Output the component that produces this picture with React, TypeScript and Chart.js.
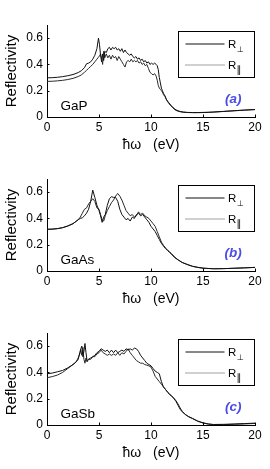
import React, { useEffect, useRef } from "react";
import { Chart, registerables } from "chart.js";

Chart.register(...registerables);

const FONT = "'Liberation Sans', Arial, Helvetica, sans-serif";

const materials = ["GaP", "GaAs", "GaSb"];
const panelTags = ["(a)", "(b)", "(c)"];
const seriesNames = ["R⊥", "R∥"];
const xTickValues = [0, 5, 10, 15, 20];
const yTickValues = [0, 0.2, 0.4, 0.6];
const xTitle = "ħω   (eV)";
const yTitle = "Reflectivity";

// ---- GaP ----
const energyGaP = [0, 0.5, 1, 1.5, 2, 2.5, 3, 3.3, 3.6, 3.8, 4, 4.2, 4.4, 4.6, 4.8, 4.95, 5.05, 5.15, 5.25, 5.35, 5.45, 5.55, 5.7, 5.85, 6, 6.15, 6.3, 6.45, 6.6, 6.75, 6.9, 7.05, 7.2, 7.35, 7.5, 7.65, 7.8, 7.95, 8.1, 8.25, 8.4, 8.55, 8.7, 8.85, 9, 9.15, 9.3, 9.45, 9.6, 9.75, 9.9, 10.05, 10.2, 10.35, 10.5, 10.6, 10.7, 10.8, 10.9, 11, 11.1, 11.2, 11.35, 11.5, 11.7, 11.9, 12.1, 12.3, 12.5, 12.8, 13.1, 13.5, 14, 14.5, 15, 15.5, 16, 17, 18, 19, 20];
const rPerpGaP = [0.298, 0.299, 0.302, 0.307, 0.314, 0.323, 0.338, 0.352, 0.375, 0.405, 0.41, 0.42, 0.44, 0.47, 0.52, 0.6, 0.55, 0.47, 0.42, 0.48, 0.43, 0.5, 0.49, 0.52, 0.53, 0.51, 0.53, 0.52, 0.53, 0.51, 0.52, 0.5, 0.52, 0.49, 0.51, 0.49, 0.48, 0.47, 0.48, 0.46, 0.45, 0.46, 0.44, 0.45, 0.43, 0.44, 0.42, 0.43, 0.41, 0.42, 0.4, 0.41, 0.4, 0.41, 0.4, 0.39, 0.36, 0.3, 0.26, 0.22, 0.2, 0.18, 0.16, 0.13, 0.11, 0.09, 0.075, 0.06, 0.05, 0.042, 0.038, 0.035, 0.034, 0.034, 0.035, 0.036, 0.038, 0.043, 0.048, 0.053, 0.057];
const rParGaP = [0.271, 0.272, 0.275, 0.279, 0.285, 0.294, 0.308, 0.32, 0.34, 0.355, 0.37, 0.385, 0.4, 0.42, 0.44, 0.455, 0.465, 0.48, 0.45, 0.4, 0.5, 0.45, 0.48, 0.45, 0.47, 0.44, 0.47, 0.45, 0.46, 0.43, 0.46, 0.44, 0.42, 0.4, 0.38, 0.42, 0.43, 0.42, 0.44, 0.42, 0.43, 0.42, 0.43, 0.41, 0.42, 0.4, 0.41, 0.39, 0.4, 0.37, 0.34, 0.33, 0.32, 0.33, 0.31, 0.28, 0.24, 0.22, 0.21, 0.2, 0.19, 0.17, 0.155, 0.13, 0.105, 0.085, 0.07, 0.055, 0.047, 0.04, 0.036, 0.034, 0.033, 0.033, 0.034, 0.035, 0.037, 0.042, 0.047, 0.052, 0.056];

// ---- GaAs ----
const energyGaAs = [0, 0.5, 1, 1.5, 2, 2.5, 3, 3.2, 3.4, 3.6, 3.8, 4, 4.2, 4.4, 4.6, 4.8, 5, 5.15, 5.3, 5.45, 5.6, 5.8, 6, 6.2, 6.4, 6.6, 6.8, 7, 7.2, 7.4, 7.6, 7.8, 8, 8.2, 8.4, 8.6, 8.8, 9, 9.2, 9.4, 9.6, 9.8, 10, 10.2, 10.4, 10.6, 10.8, 11, 11.2, 11.4, 11.6, 11.8, 12, 12.3, 12.6, 13, 13.5, 14, 14.5, 15, 16, 17, 18, 19, 20];
const rPerpGaAs = [0.318, 0.319, 0.323, 0.33, 0.343, 0.36, 0.39, 0.4, 0.405, 0.42, 0.44, 0.47, 0.53, 0.615, 0.56, 0.5, 0.46, 0.42, 0.37, 0.41, 0.43, 0.5, 0.55, 0.565, 0.56, 0.56, 0.53, 0.47, 0.43, 0.41, 0.39, 0.4, 0.38, 0.41, 0.4, 0.43, 0.44, 0.42, 0.43, 0.41, 0.39, 0.37, 0.34, 0.32, 0.3, 0.27, 0.24, 0.21, 0.19, 0.17, 0.155, 0.14, 0.125, 0.1, 0.085, 0.065, 0.05, 0.036, 0.028, 0.022, 0.017, 0.018, 0.021, 0.024, 0.027];
const rParGaAs = [0.316, 0.318, 0.322, 0.329, 0.342, 0.36, 0.39, 0.41, 0.44, 0.47, 0.48, 0.51, 0.53, 0.55, 0.53, 0.48, 0.47, 0.43, 0.39, 0.38, 0.42, 0.46, 0.49, 0.52, 0.54, 0.57, 0.59, 0.57, 0.54, 0.5, 0.46, 0.44, 0.42, 0.43, 0.41, 0.42, 0.45, 0.43, 0.44, 0.42, 0.41, 0.4, 0.38, 0.36, 0.34, 0.3, 0.26, 0.22, 0.195, 0.175, 0.16, 0.145, 0.13, 0.105, 0.085, 0.065, 0.048, 0.035, 0.027, 0.021, 0.017, 0.018, 0.021, 0.024, 0.028];

// ---- GaSb ----
const energyGaSb = [0, 0.5, 1, 1.5, 2, 2.5, 2.8, 3, 3.15, 3.25, 3.35, 3.45, 3.55, 3.65, 3.75, 3.85, 4, 4.2, 4.4, 4.6, 4.8, 5, 5.2, 5.4, 5.6, 5.8, 6, 6.2, 6.4, 6.6, 6.8, 7, 7.2, 7.4, 7.6, 7.8, 8, 8.2, 8.4, 8.6, 8.8, 9, 9.2, 9.4, 9.6, 9.8, 10, 10.2, 10.4, 10.6, 10.8, 11, 11.2, 11.4, 11.6, 11.8, 12, 12.2, 12.4, 12.6, 12.8, 13, 13.3, 13.6, 14, 14.5, 15, 15.5, 16, 17, 18, 19, 20];
const rPerpGaSb = [0.39, 0.395, 0.405, 0.415, 0.435, 0.46, 0.48, 0.5, 0.55, 0.58, 0.6, 0.52, 0.56, 0.62, 0.55, 0.49, 0.5, 0.51, 0.52, 0.53, 0.55, 0.56, 0.58, 0.57, 0.56, 0.57, 0.55, 0.57, 0.55, 0.57, 0.55, 0.56, 0.57, 0.56, 0.58, 0.57, 0.58, 0.57, 0.585, 0.58, 0.56, 0.53, 0.51, 0.49, 0.47, 0.46, 0.45, 0.43, 0.41, 0.4, 0.39, 0.33, 0.29, 0.27, 0.25, 0.23, 0.22, 0.2, 0.18, 0.15, 0.12, 0.1, 0.08, 0.065, 0.05, 0.03, 0.017, 0.008, 0.004, 0.005, 0.008, 0.011, 0.014];
const rParGaSb = [0.36, 0.368, 0.38, 0.4, 0.43, 0.46, 0.48, 0.51, 0.54, 0.57, 0.53, 0.59, 0.5, 0.47, 0.51, 0.48, 0.5, 0.5, 0.52, 0.52, 0.54, 0.55, 0.57, 0.55, 0.54, 0.53, 0.54, 0.53, 0.54, 0.53, 0.55, 0.53, 0.55, 0.54, 0.56, 0.58, 0.55, 0.53, 0.51, 0.49, 0.48, 0.47, 0.47, 0.46, 0.455, 0.45, 0.44, 0.41, 0.37, 0.35, 0.33, 0.31, 0.29, 0.27, 0.25, 0.235, 0.22, 0.205, 0.185, 0.16, 0.13, 0.105, 0.08, 0.063, 0.048, 0.028, 0.015, 0.007, 0.003, 0.003, 0.005, 0.008, 0.012];

const panelEnergies = [energyGaP, energyGaAs, energyGaSb];
const panelPerp = [rPerpGaP, rPerpGaAs, rPerpGaSb];
const panelPar = [rParGaP, rParGaAs, rParGaSb];

const PANEL_H = 154;
const W = 270;

function Panel({ idx }: { idx: number }) {
  const ref = useRef<HTMLCanvasElement>(null);
  useEffect(() => {
    const canvas = ref.current;
    if (!canvas) return;
    const energy = panelEnergies[idx];
    const toPts = (ys: number[]) => energy.map((x, i) => ({ x, y: ys[i] }));

    const overlay = {
      id: "overlay" + idx,
      afterDraw(chart: any) {
        const { ctx, chartArea: ca, scales } = chart;
        const xs = scales.x;
        const ys = scales.y;
        ctx.save();
        // inward tick marks
        ctx.strokeStyle = "#000";
        ctx.lineWidth = 1;
        ctx.beginPath();
        xTickValues.forEach((v) => {
          const px = Math.round(xs.getPixelForValue(v)) + 0.5;
          ctx.moveTo(px, ca.bottom);
          ctx.lineTo(px, ca.bottom - 2.5);
        });
        yTickValues.forEach((v) => {
          const py = Math.round(ys.getPixelForValue(v)) + 0.5;
          ctx.moveTo(ca.left, py);
          ctx.lineTo(ca.left + 2.5, py);
        });
        ctx.stroke();

        // material name
        ctx.fillStyle = "#000";
        ctx.font = `13.5px ${FONT}`;
        ctx.textAlign = "left";
        ctx.textBaseline = "alphabetic";
        ctx.fillText(materials[idx], xs.getPixelForValue(1.3), ys.getPixelForValue(0.05));

        // panel tag
        ctx.fillStyle = "#4b4be6";
        ctx.font = `italic bold 13.5px ${FONT}`;
        ctx.textAlign = "center";
        ctx.textBaseline = "middle";
        ctx.fillText(panelTags[idx], xs.getPixelForValue(17.9), ys.getPixelForValue(0.133));

        // legend box
        const bx = Math.round(ca.right - 77) + 0.5;
        const by = Math.round(ca.top + 6) + 0.5;
        const bw = 76;
        const bh = 46;
        ctx.fillStyle = "#fff";
        ctx.fillRect(bx, by, bw, bh);
        ctx.strokeStyle = "#000";
        ctx.lineWidth = 1;
        ctx.strokeRect(bx, by, bw, bh);

        // solid sample
        ctx.beginPath();
        ctx.strokeStyle = "#111";
        ctx.moveTo(bx + 7, by + 12.5);
        ctx.lineTo(bx + 46, by + 12.5);
        ctx.stroke();
        // dotted sample
        ctx.beginPath();
        ctx.strokeStyle = "#444";
        ctx.setLineDash([1, 1]);
        ctx.moveTo(bx + 7, by + 33.5);
        ctx.lineTo(bx + 46, by + 33.5);
        ctx.stroke();
        ctx.setLineDash([]);

        ctx.fillStyle = "#000";
        ctx.textAlign = "left";
        ctx.textBaseline = "alphabetic";
        ctx.font = `11.5px ${FONT}`;
        ctx.fillText(seriesNames[0].charAt(0), bx + 49.5, by + 16.5);
        ctx.fillText(seriesNames[1].charAt(0), bx + 49.5, by + 37);
        ctx.font = `8px 'DejaVu Sans', ${FONT}`;
        ctx.fillText(seriesNames[0].slice(1), bx + 58.5, by + 20);
        ctx.font = `10px 'DejaVu Sans', ${FONT}`;
        ctx.fillText(seriesNames[1].slice(1), bx + 58, by + 41.5);
        ctx.restore();
      },
    };

    const chart = new Chart(canvas, {
      type: "line",
      data: {
        datasets: [
          {
            label: seriesNames[0],
            data: toPts(panelPerp[idx]),
            borderColor: "#111",
            borderWidth: 1,
            pointRadius: 0,
            tension: 0,
            fill: false,
          },
          {
            label: seriesNames[1],
            data: toPts(panelPar[idx]),
            borderColor: "#2a2a2a",
            borderWidth: 1,
            pointRadius: 0,
            tension: 0,
            fill: false,
          },
        ],
      },
      options: {
        responsive: false,
        animation: false,
        devicePixelRatio: 1,
        layout: { padding: { left: 0, right: 15, top: 25, bottom: 0 } },
        plugins: { legend: { display: false }, tooltip: { enabled: false }, title: { display: false } },
        scales: {
          x: {
            type: "linear",
            min: 0,
            max: 20,
            afterBuildTicks: (s: any) => {
              s.ticks = xTickValues.map((v) => ({ value: v }));
            },
            ticks: {
              color: "#000",
              font: { family: FONT, size: 12 },
              padding: 3,
              maxRotation: 0,
              autoSkip: false,
              callback: (v: any) => String(v),
            },
            grid: { display: false, drawTicks: false },
            border: { display: true, color: "#000", width: 1 },
            title: {
              display: true,
              text: xTitle,
              color: "#000",
              font: { family: FONT, size: 14 },
              padding: { top: 0, bottom: 0 },
            },
            afterFit: (s: any) => {
              s.height = 37;
            },
          },
          y: {
            type: "linear",
            min: 0,
            max: 0.7,
            afterBuildTicks: (s: any) => {
              s.ticks = yTickValues.map((v) => ({ value: v }));
            },
            ticks: {
              color: "#000",
              font: { family: FONT, size: 12 },
              padding: 4,
              callback: (v: any) => (Number(v) === 0 ? "0" : Number(v).toFixed(1)),
            },
            grid: { display: false, drawTicks: false },
            border: { display: true, color: "#000", width: 1 },
            title: {
              display: true,
              text: yTitle,
              color: "#000",
              font: { family: FONT, size: 15 },
              padding: { top: 3, bottom: 0 },
            },
            afterFit: (s: any) => {
              s.width = 47;
            },
          },
        },
      },
      plugins: [overlay],
    } as any);
    return () => chart.destroy();
  }, [idx]);

  return (
    <canvas
      ref={ref}
      width={W}
      height={PANEL_H}
      style={{ position: "absolute", left: 0, top: idx * PANEL_H, width: W, height: PANEL_H, display: "block" }}
    />
  );
}

export default function App() {
  return (
    <div style={{ position: "absolute", left: 0, top: 0, width: W, height: 469, background: "#fff" }}>
      {[0, 1, 2].map((i) => (
        <Panel key={i} idx={i} />
      ))}
    </div>
  );
}
